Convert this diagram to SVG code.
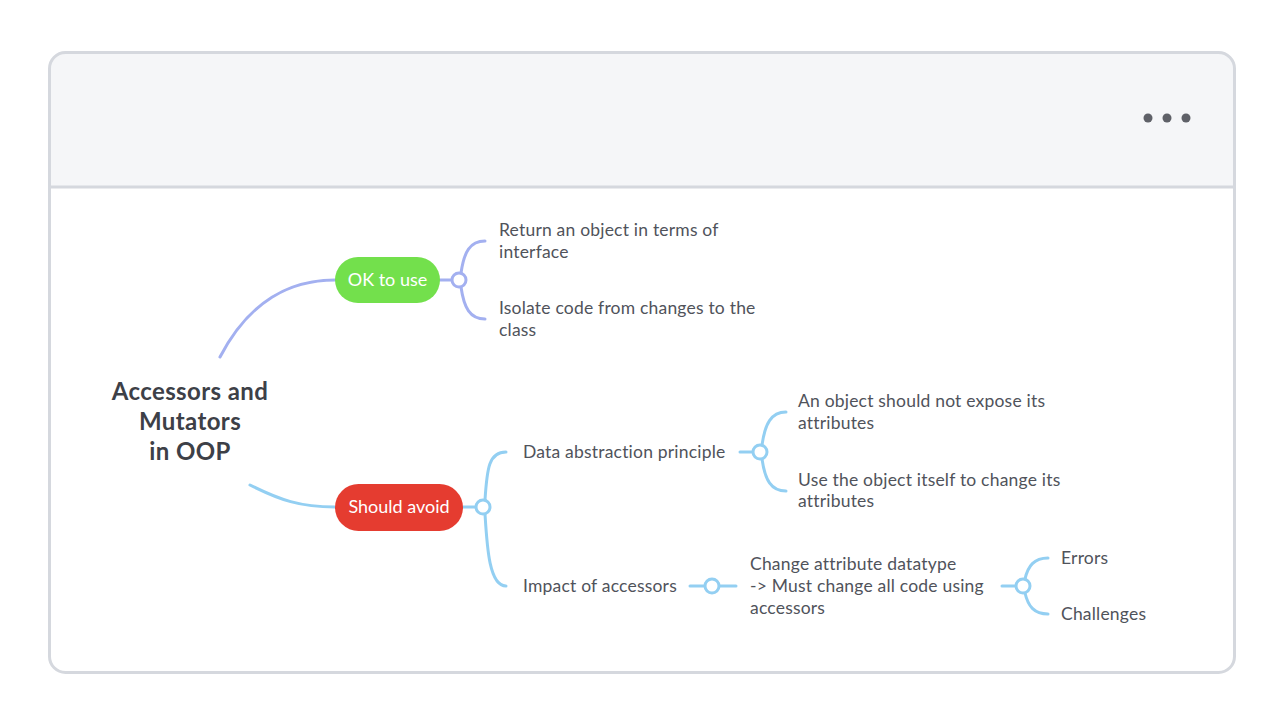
<svg xmlns="http://www.w3.org/2000/svg" width="1284" height="720" viewBox="0 0 1284 720">
<style>
.t{font-family:Lato,"Open Sans","Liberation Sans",sans-serif;font-size:17.5px;letter-spacing:0.2px;fill:#50535b}
.title{font-family:Lato,"Open Sans","Liberation Sans",sans-serif;font-size:24px;font-weight:bold;letter-spacing:0.4px;fill:#3d4047}
.pill{font-family:Lato,"Open Sans","Liberation Sans",sans-serif;font-size:18px;fill:#ffffff}
.p{fill:none;stroke:#a3b0f0;stroke-width:3;stroke-linecap:round}
.b{fill:none;stroke:#93cff2;stroke-width:3;stroke-linecap:round}
.cp{fill:#ffffff;stroke:#a3b0f0;stroke-width:3}
.cb{fill:#ffffff;stroke:#93cff2;stroke-width:3}
</style>
<rect x="0" y="0" width="1284" height="720" fill="#ffffff"/>
<g id="card">
<path d="M65,52 H1219 A16,16 0 0 1 1235,68 V187 H49 V68 A16,16 0 0 1 65,52 Z" fill="#f5f6f8"/>
<rect x="49.5" y="52.5" width="1185" height="620" rx="16" fill="none" stroke="#d5d8de" stroke-width="3"/>
<line x1="49" y1="187" x2="1235" y2="187" stroke="#d5d8de" stroke-width="3"/>
<circle cx="1148" cy="118" r="4.5" fill="#5f6168"/>
<circle cx="1167" cy="118" r="4.5" fill="#5f6168"/>
<circle cx="1186" cy="118" r="4.5" fill="#5f6168"/>
</g>
<g id="connectors">
<path class="p" d="M220,357 C250,300 290,280 335,280"/>
<path class="p" d="M440,280 H452"/>
<path class="p" d="M461,273 C464,252 470,241 485,241"/>
<path class="p" d="M461,287 C464,308 470,319 485,319"/>
<path class="b" d="M250,485 C280,500 300,507 335,507"/>
<path class="b" d="M463,507 H476"/>
<path class="b" d="M485,500 C487,468 489,452 506,452"/>
<path class="b" d="M485,514 C487,546 489,586 506,586"/>
<path class="b" d="M740,452 H753"/>
<path class="b" d="M762,445 C765,424 771,412 786,412"/>
<path class="b" d="M762,459 C765,480 771,491 786,491"/>
<path class="b" d="M690,586 H705"/>
<path class="b" d="M719,586 H736"/>
<path class="b" d="M1002,586 H1016"/>
<path class="b" d="M1025,579 C1028,566 1034,558 1048,558"/>
<path class="b" d="M1025,593 C1028,606 1034,614 1048,614"/>
<circle class="cp" cx="459" cy="280" r="7"/>
<circle class="cb" cx="483" cy="507" r="7"/>
<circle class="cb" cx="760" cy="452" r="7"/>
<circle class="cb" cx="712" cy="586" r="7"/>
<circle class="cb" cx="1023" cy="586" r="7"/>
</g>
<g id="root">
<text class="title" text-anchor="middle" x="190" y="400">Accessors and</text>
<text class="title" text-anchor="middle" x="190" y="430">Mutators</text>
<text class="title" text-anchor="middle" x="190" y="460">in OOP</text>
</g>
<g id="ok">
<rect x="335" y="257" width="105" height="46" rx="23" fill="#73e04c"/>
<text class="pill" text-anchor="middle" x="387.5" y="286">OK to use</text>
</g>
<g id="avoid">
<rect x="335" y="484" width="128" height="47" rx="23.5" fill="#e53c30"/>
<text class="pill" text-anchor="middle" x="399" y="513">Should avoid</text>
</g>
<g id="return">
<text class="t" x="499" y="236">Return an object in terms of</text>
<text class="t" x="499" y="258">interface</text>
</g>
<g id="isolate">
<text class="t" x="499" y="314">Isolate code from changes to the</text>
<text class="t" x="499" y="336">class</text>
</g>
<g id="data">
<text class="t" x="523" y="458">Data abstraction principle</text>
</g>
<g id="expose">
<text class="t" x="798" y="407">An object should not expose its</text>
<text class="t" x="798" y="429">attributes</text>
</g>
<g id="itself">
<text class="t" x="798" y="486">Use the object itself to change its</text>
<text class="t" x="798" y="507">attributes</text>
</g>
<g id="impact">
<text class="t" x="523" y="592">Impact of accessors</text>
</g>
<g id="change">
<text class="t" x="750" y="570">Change attribute datatype</text>
<text class="t" x="750" y="592">-&gt; Must change all code using</text>
<text class="t" x="750" y="614">accessors</text>
</g>
<g id="errors">
<text class="t" x="1061" y="564">Errors</text>
</g>
<g id="challenges">
<text class="t" x="1061" y="620">Challenges</text>
</g>
</svg>
